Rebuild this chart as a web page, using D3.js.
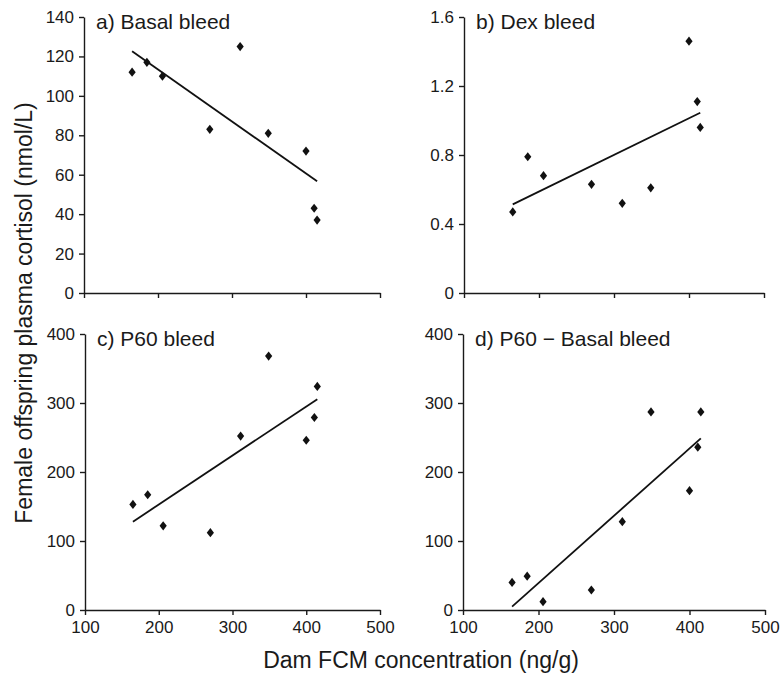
<!DOCTYPE html>
<html lang="en">
<head>
<meta charset="UTF-8">
<title>Dam FCM vs offspring cortisol</title>
<script src="https://d3js.org/d3.v7.min.js"></script>
<style>
  body { margin: 0; background: #fff; }
  svg text { font-family: Arial, "Liberation Sans", Helvetica, sans-serif; fill: #1a1a1a; }
  .axis path, .axis line { stroke: #1a1a1a; stroke-width: 1.4px; }
  .axis text { font-size: 17px; }
</style>
</head>
<body>
<div id="chart"></div>
<script>
// dam FCM concentration (ng/g), same dams in every panel
var damFCM = [165, 185, 206, 270, 311, 349, 400, 411, 415];

// female offspring plasma cortisol (nmol/L)
var basal = [112, 117, 110, 83, 125, 81, 72, 43, 37];
var dex = [0.47, 0.79, 0.68, 0.63, 0.52, 0.61, 1.46, 1.11, 0.96];
var p60 = [153, 167, 122, 112, 252, 368, 246, 279, 324];
var p60MinusBasal = [40, 49, 12, 29, 128, 287, 173, 236, 287];

var xTicks = [100, 200, 300, 400, 500];
var basalTicks = [0, 20, 40, 60, 80, 100, 120, 140];
var dexTicks = [0, 0.4, 0.8, 1.2, 1.6];
var p60Ticks = [0, 100, 200, 300, 400];

var titles = ["a) Basal bleed", "b) Dex bleed", "c) P60 bleed", "d) P60 \u2212 Basal bleed"];

var width = 782, height = 673;

var svg = d3.select("#chart")
  .append("svg")
  .attr("width", width)
  .attr("height", height);

// panel boxes (pixels) and y domains
var panels = [
  { title: titles[0], y: basal, ticks: basalTicks, max: 140, x0: 84, x1: 380, top: 17, bottom: 293, xLabels: false },
  { title: titles[1], y: dex, ticks: dexTicks, max: 1.6, x0: 464, x1: 764, top: 17, bottom: 293, xLabels: false },
  { title: titles[2], y: p60, ticks: p60Ticks, max: 400, x0: 85, x1: 380, top: 334, bottom: 610, xLabels: true },
  { title: titles[3], y: p60MinusBasal, ticks: p60Ticks, max: 400, x0: 463, x1: 765, top: 334, bottom: 610, xLabels: true }
];

// tall diamond marker
function diamond(cx, cy) {
  var w = 3.6, h = 4.6;
  return "M" + cx + "," + (cy - h) + "L" + (cx + w) + "," + cy +
         "L" + cx + "," + (cy + h) + "L" + (cx - w) + "," + cy + "Z";
}

// least squares fit
function fit(xs, ys) {
  var mx = d3.mean(xs), my = d3.mean(ys);
  var sxy = d3.sum(xs, function(d, i) { return (d - mx) * (ys[i] - my); });
  var sxx = d3.sum(xs, function(d) { return (d - mx) * (d - mx); });
  var b = sxy / sxx;
  return { a: my - b * mx, b: b };
}

panels.forEach(function(p) {
  var x = d3.scaleLinear().domain([100, 500]).range([p.x0, p.x1]);
  var y = d3.scaleLinear().domain([0, p.max]).range([p.bottom, p.top]);

  var xAxis = d3.axisBottom(x).tickValues(xTicks).tickSize(5).tickPadding(6).tickSizeOuter(0);
  if (!p.xLabels) xAxis.tickFormat("");
  svg.append("g")
    .attr("class", "axis")
    .attr("transform", "translate(0," + p.bottom + ")")
    .call(xAxis);

  svg.append("g")
    .attr("class", "axis")
    .attr("transform", "translate(" + p.x0 + ",0)")
    .call(d3.axisLeft(y).tickValues(p.ticks).tickSize(5).tickPadding(5).tickSizeOuter(0)
      .tickFormat(function(d) { return d === 0 ? "0" : String(d); }));

  var f = fit(damFCM, p.y);
  var ext = d3.extent(damFCM);
  svg.append("line")
    .attr("x1", x(ext[0])).attr("y1", y(f.a + f.b * ext[0]))
    .attr("x2", x(ext[1])).attr("y2", y(f.a + f.b * ext[1]))
    .attr("stroke", "#111")
    .attr("stroke-width", 1.8);

  svg.append("g")
    .selectAll("path")
    .data(damFCM)
    .enter()
    .append("path")
    .attr("d", function(d, i) { return diamond(x(d), y(p.y[i])); })
    .attr("fill", "#111");

  svg.append("text")
    .attr("x", p.x0 + 12)
    .attr("y", p.top + 12)
    .style("font-size", "21px")
    .text(p.title);
});

// shared axis titles
svg.append("text")
  .attr("transform", "translate(32,313) rotate(-90)")
  .attr("text-anchor", "middle")
  .style("font-size", "23px")
  .text("Female offspring plasma cortisol (nmol/L)");

svg.append("text")
  .attr("x", 421)
  .attr("y", 668)
  .attr("text-anchor", "middle")
  .style("font-size", "23px")
  .text("Dam FCM concentration (ng/g)");
</script>
</body>
</html>
